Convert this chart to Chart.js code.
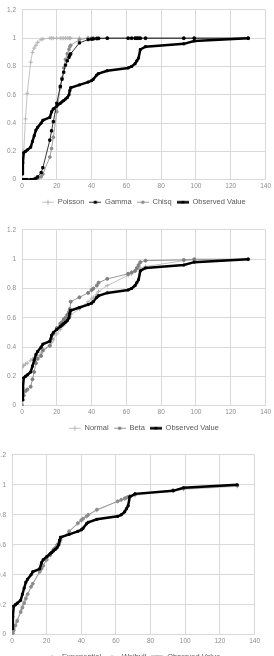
<!DOCTYPE html>
<html>
<head>
<meta charset="utf-8">
<script src="https://cdn.jsdelivr.net/npm/chart.js@4.4.1/dist/chart.umd.min.js"></script>
<style>
html, body { margin: 0; padding: 0; background: #fff; overflow: hidden; width: 274px; height: 656px; }
.box { position: absolute; }
#box1 { left: 0; top: 0; width: 274px; height: 216px; }
#box2 { left: 0; top: 220px; width: 274px; height: 222px; }
#box3 { left: -10px; top: 445px; width: 273px; height: 226px; }
</style>
</head>
<body>
<div class="box" id="box1"><canvas id="chart1"></canvas></div>
<div class="box" id="box2"><canvas id="chart2"></canvas></div>
<div class="box" id="box3"><canvas id="chart3"></canvas></div>
<script>
// x 값 (관측 데이터, 세 차트 공통)
var xValues = [0, 0.5, 1, 2, 3, 5, 6, 7, 8, 9, 11, 12, 16, 17, 18, 20, 22, 23, 24, 25,
    26, 27, 27.5, 28, 33, 38, 40, 41, 43, 44, 49, 61, 63, 65, 66, 67, 68, 71, 93, 99, 130];

var observed = [0.04, 0.12, 0.19, 0.2, 0.21, 0.23, 0.27, 0.31, 0.35, 0.37, 0.40, 0.42, 0.44, 0.48, 0.5, 0.52, 0.54, 0.55, 0.56, 0.57,
    0.58, 0.6, 0.63, 0.65, 0.67, 0.69, 0.70, 0.71, 0.74, 0.75, 0.77, 0.79, 0.80, 0.82, 0.84, 0.86, 0.92, 0.94, 0.96, 0.98, 1.0];

// 차트 1
var poisson = [0.13, 0.2, 0.2, 0.43, 0.61, 0.83, 0.9, 0.93, 0.95, 0.97, 0.99, 0.995, 1, 1, 1, 1, 1, 1, 1, 1,
    1, 1, 1, 1, 1, 1, 1, 1, 1, 1, 1, 1, 1, 1, 1, 1, 1, 1, 1, 1, 1];
var gamma = [0, 0, 0, 0, 0, 0, 0, 0.003, 0.01, 0.02, 0.05, 0.085, 0.28, 0.345, 0.41, 0.54, 0.66, 0.71, 0.76, 0.81,
    0.84, 0.865, 0.88, 0.89, 0.967, 0.99, 0.993, 0.995, 0.997, 0.998, 1, 1, 1, 1, 1, 1, 1, 1, 1, 1, 1];
var chisq = [0, 0, 0, 0, 0, 0, 0, 0, 0, 0.005, 0.02, 0.04, 0.16, 0.22, 0.3, 0.48, 0.65, 0.72, 0.79, 0.85,
    0.89, 0.92, 0.94, 0.95, 0.99, 1, 1, 1, 1, 1, 1, 1, 1, 1, 1, 1, 1, 1, 1, 1, 1];

// 차트 2
var normal = [0.26, 0.27, 0.275, 0.285, 0.29, 0.31, 0.32, 0.325, 0.33, 0.34, 0.36, 0.37, 0.41, 0.43, 0.45, 0.49, 0.52, 0.54, 0.55, 0.57,
    0.58, 0.6, 0.61, 0.62, 0.66, 0.71, 0.73, 0.74, 0.76, 0.78, 0.82, 0.89, 0.9, 0.92, 0.93, 0.94, 0.94, 0.95, 0.99, 0.995, 1.0];
var beta = [0, 0.04, 0.07, 0.1, 0.11, 0.13, 0.18, 0.23, 0.29, 0.32, 0.34, 0.38, 0.41, 0.46, 0.49, 0.53, 0.56, 0.57, 0.59, 0.6,
    0.62, 0.64, 0.66, 0.71, 0.74, 0.77, 0.79, 0.8, 0.82, 0.84, 0.866, 0.9, 0.91, 0.92, 0.94, 0.96, 0.98, 0.99, 0.995, 1.0, 1.0];

// 차트 3
var exponential = [0, 0.02, 0.04, 0.07, 0.1, 0.16, 0.19, 0.22, 0.25, 0.27, 0.32, 0.34, 0.42, 0.44, 0.46, 0.5, 0.53, 0.55, 0.57, 0.58,
    0.6, 0.61, 0.62, 0.63, 0.69, 0.74, 0.76, 0.77, 0.79, 0.8, 0.83, 0.89, 0.9, 0.905, 0.91, 0.915, 0.92, 0.93, 0.96, 0.97, 0.99];
var weibull = [0, 0.01, 0.03, 0.06, 0.09, 0.15, 0.18, 0.21, 0.24, 0.27, 0.32, 0.34, 0.42, 0.44, 0.46, 0.5, 0.53, 0.55, 0.57, 0.58,
    0.6, 0.61, 0.62, 0.635, 0.69, 0.745, 0.765, 0.775, 0.79, 0.8, 0.835, 0.89, 0.9, 0.91, 0.915, 0.92, 0.925, 0.935, 0.965, 0.975, 0.995];

var xTicks = [0, 20, 40, 60, 80, 100, 120, 140];
var yTicks = [0, 0.2, 0.4, 0.6, 0.8, 1, 1.2];

function toPoints(ys) {
    return xValues.map(function(x, i) { return {x: x, y: ys[i]}; });
}

// 선 스타일
function series(label, ys, color, width, marker, size, order) {
    return {
        label: label,
        data: toPoints(ys),
        showLine: true,
        borderColor: color,
        backgroundColor: color,
        borderWidth: width,
        pointStyle: marker,
        pointRadius: size,
        pointBorderWidth: 1,
        pointHoverRadius: size,
        order: order
    };
}

// 범례 아이콘 (선 + 마커)
function legendIcon(ds) {
    var c = document.createElement('canvas');
    c.width = 12; c.height = 7;
    var g = c.getContext('2d');
    g.strokeStyle = ds.borderColor;
    g.fillStyle = ds.borderColor;
    g.lineWidth = ds.borderWidth;
    g.beginPath(); g.moveTo(0, 3.5); g.lineTo(12, 3.5); g.stroke();
    g.lineWidth = 1;
    if (ds.pointStyle === 'rect') {
        g.fillRect(4.5, 2, 3, 3);
    } else if (ds.pointStyle === 'circle') {
        g.beginPath(); g.arc(6, 3.5, 1.8, 0, Math.PI * 2); g.fill();
    } else {
        g.beginPath(); g.moveTo(6, 1); g.lineTo(6, 6); g.moveTo(3.5, 3.5); g.lineTo(8.5, 3.5); g.stroke();
    }
    return c;
}

// 범례를 그래프 영역 가운데로 옮긴다 (엑셀처럼)
var legendShift = {
    id: 'legendShift',
    afterLayout: function(chart) {
        var l = chart.legend, a = chart.chartArea;
        var d = (a.left + a.right) / 2 - (l.left + l.right) / 2;
        l.left += d; l.right += d;
    }
};

function makeChart(id, datasets, top) {
    var ctx = document.getElementById(id).getContext('2d');
    return new Chart(ctx, {
        type: 'scatter',
        data: { datasets: datasets },
        plugins: [legendShift],
        options: {
            responsive: true,
            maintainAspectRatio: false,
            animation: false,
            layout: { padding: { top: top, right: 6, left: 0, bottom: 0 } },
            plugins: {
                tooltip: { enabled: false },
                legend: {
                    position: 'bottom',
                    labels: {
                        usePointStyle: true,
                        pointStyleWidth: 12,
                        boxHeight: 7,
                        padding: 5,
                        color: '#595959',
                        font: { family: 'Liberation Sans, Arial', size: 7.5 },
                        generateLabels: function(chart) {
                            return chart.data.datasets.map(function(ds, i) {
                                return {
                                    text: ds.label,
                                    pointStyle: legendIcon(ds),
                                    fillStyle: ds.borderColor,
                                    strokeStyle: ds.borderColor,
                                    lineWidth: 0,
                                    hidden: false,
                                    datasetIndex: i,
                                    fontColor: '#595959'
                                };
                            });
                        }
                    }
                }
            },
            scales: {
                x: {
                    type: 'linear',
                    min: 0, max: 140,
                    afterBuildTicks: function(scale) {
                        scale.ticks = xTicks.map(function(v) { return {value: v}; });
                    },
                    grid: { color: '#d9d9d9', drawTicks: false },
                    border: { display: false },
                    ticks: { padding: 3, color: '#8c8c8c', font: { family: 'Liberation Sans, Arial', size: 6.5 } }
                },
                y: {
                    min: 0, max: 1.2,
                    afterBuildTicks: function(scale) {
                        scale.ticks = yTicks.map(function(v) { return {value: v}; });
                    },
                    afterFit: function(scale) { scale.width = 22; },
                    grid: { color: '#d9d9d9', drawTicks: false },
                    border: { display: false },
                    ticks: {
                        padding: 6, color: '#8c8c8c',
                        font: { family: 'Liberation Sans, Arial', size: 6.5 },
                        callback: function(v) { return String(Math.round(v * 10) / 10); }
                    }
                }
            }
        }
    });
}

makeChart('chart1', [
    series('Poisson', poisson, '#b4b4b4', 0.8, 'cross', 2, 4),
    series('Gamma', gamma, '#000000', 0.8, 'rect', 1.6, 2),
    series('Chisq', chisq, '#8c8c8c', 0.8, 'circle', 1.4, 3),
    series('Observed Value', observed, '#000000', 2.5, 'rect', 1.4, 1)
], 7);

makeChart('chart2', [
    series('Normal', normal, '#b4b4b4', 0.8, 'cross', 2, 3),
    series('Beta', beta, '#7f7f7f', 0.8, 'circle', 1.5, 2),
    series('Observed Value', observed, '#000000', 2.5, 'rect', 1.4, 1)
], 6);

makeChart('chart3', [
    series('Exponential', exponential, '#b4b4b4', 0.8, 'cross', 2, 3),
    series('Weibull', weibull, '#8c8c8c', 0.8, 'circle', 1.4, 2),
    series('Observed Value', observed, '#000000', 2.5, 'rect', 1.4, 1)
], 7);
</script>
</body>
</html>
